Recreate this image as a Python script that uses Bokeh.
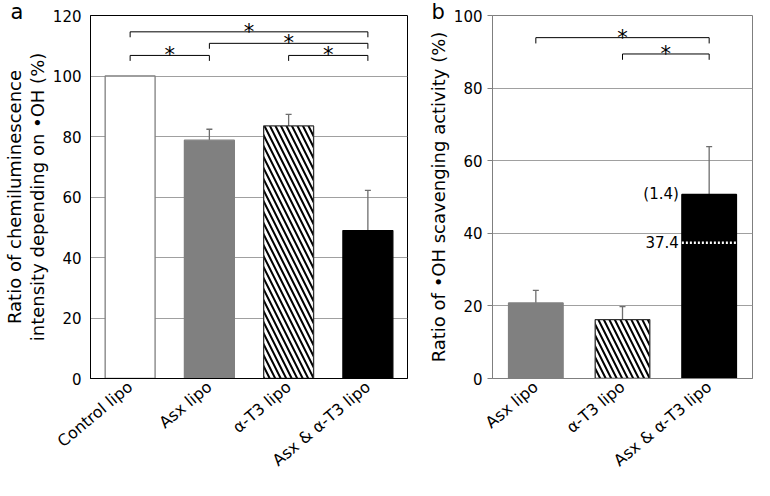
import math
from bokeh.plotting import figure
from bokeh.models import (FactorRange, Range1d, SingleIntervalTicker, ColumnDataSource,
                          Whisker, TeeHead, Title)
from bokeh.layouts import row
from bokeh.embed import file_html
from bokeh.resources import INLINE
from bokeh.core.properties import value

# ---------------- data ----------------
cats_a = ["Control lipo", "Asx lipo", "α-T3 lipo", "Asx & α-T3 lipo"]
vals_a = [100.0, 78.8, 83.5, 48.9]
err_a = [0.0, 3.6, 3.8, 13.3]
sig_a_left = [0, 1, 0, 2]
sig_a_right = [3, 3, 1, 3]
sig_a_level = [114.6, 110.8, 106.8, 106.8]

cats_b = ["Asx lipo", "α-T3 lipo", "Asx & α-T3 lipo"]
vals_b = [20.8, 16.2, 50.7]
err_b = [3.5, 3.6, 13.2]
sig_b_left = [0, 1]
sig_b_right = [2, 2]
sig_b_level = [93.9, 89.4]
expected_b = 37.4
expected_label = "37.4"
ratio_label = "(1.4)"

style = {
    "Control lipo": ("white", "#7f7f7f", " "),
    "Asx lipo": ("#808080", "#808080", " "),
    "α-T3 lipo": ("white", "#333333", "\\"),
    "Asx & α-T3 lipo": ("black", "black", " "),
}

FONT = "DejaVu Sans"
BAR_W = 0.63
H = 480


def make_panel(cats, vals, errs, sl, sr, slev, ymax, width, mbl, mbr, mbb,
               ylabel, frame_col, ytick_out, drop, letter, letter_offset):
    p = figure(x_range=FactorRange(factors=cats), y_range=Range1d(0, ymax),
               width=width, height=H, output_backend="svg", toolbar_location=None,
               min_border_left=mbl, min_border_right=mbr, min_border_top=15,
               min_border_bottom=mbb)
    p.title = Title(text=letter, align="left", offset=letter_offset, standoff=-20,
                    vertical_align="top",
                    text_font=FONT, text_font_size="21px", text_font_style="normal",
                    text_color="black")
    p.background_fill_color = "white"
    p.border_fill_color = "white"
    p.outline_line_color = frame_col
    p.outline_line_width = 1
    p.xgrid.visible = False
    p.ygrid.grid_line_color = "#a0a0a0"
    p.ygrid.grid_line_width = 1
    p.yaxis.ticker = SingleIntervalTicker(interval=20)
    p.yaxis.minor_tick_line_color = None
    p.axis.axis_line_color = frame_col
    p.axis.major_tick_line_color = frame_col
    p.yaxis.major_tick_out = ytick_out
    p.yaxis.major_tick_in = 0
    p.xaxis.major_tick_out = 0
    p.xaxis.major_tick_in = 0
    p.axis.major_label_text_font = FONT
    p.yaxis.major_label_text_font_size = "15px"
    p.xaxis.major_label_text_font_size = "16px"
    p.axis.major_label_text_color = "black"
    p.yaxis.major_label_standoff = 5
    p.xaxis.major_label_standoff = 6
    p.xaxis.major_label_orientation = math.radians(40)
    p.yaxis.axis_label = ylabel
    p.yaxis.axis_label_text_font = FONT
    p.yaxis.axis_label_text_font_style = "normal"
    p.yaxis.axis_label_text_font_size = "18px"
    p.yaxis.axis_label_text_line_height = 1.1
    p.yaxis.axis_label_standoff = 2
    p.yaxis.axis_label_text_color = "black"

    src = ColumnDataSource(dict(
        x=cats, top=vals,
        fill=[style[c][0] for c in cats],
        line=[style[c][1] for c in cats],
        hatch=[style[c][2] for c in cats],
    ))
    p.vbar(x="x", top="top", width=BAR_W, source=src, fill_color="fill",
           line_color="line", line_width=1.3, hatch_pattern="hatch",
           hatch_color="black", hatch_scale=11, hatch_weight=2)

    ex = [c for c, e in zip(cats, errs) if e > 0]
    ev = [v for v, e in zip(vals, errs) if e > 0]
    eu = [v + e for v, e in zip(vals, errs) if e > 0]
    esrc = ColumnDataSource(dict(x=ex, lower=ev, upper=eu))
    p.add_layout(Whisker(source=esrc, base="x", lower="lower", upper="upper",
                         dimension="height", line_color="#6e6e6e", line_width=1.3,
                         upper_head=TeeHead(size=6, line_color="#6e6e6e", line_width=1.3),
                         lower_head=None))

    xs, ys, sx, sy = [], [], [], []
    for l, r, lev in zip(sl, sr, slev):
        xl, xr = l + 0.5, r + 0.5
        xs.append([xl, xl, xr, xr])
        ys.append([lev - drop, lev, lev, lev - drop])
        sx.append((xl + xr) / 2)
        sy.append(lev)
    p.multi_line(xs=xs, ys=ys, line_color="black", line_width=1)
    p.text(x=sx, y=sy, text=["*"] * len(sx), text_font=value(FONT),
           text_font_size="21px", text_align="center", text_baseline="middle",
           text_color="black")
    return p


pa = make_panel(cats_a, vals_a, err_a, sig_a_left, sig_a_right, sig_a_level, 120,
                424, 82, 17, 102,
                "Ratio of chemiluminescence\nintensity depending on •OH (%)",
                "black", 0, 1.8, "a", -80)
pb = make_panel(cats_b, vals_b, err_b, sig_b_left, sig_b_right, sig_b_level, 100,
                330, 66, 2, 102,
                "Ratio of •OH scavenging activity (%)",
                "#7f7f7f", 5, 1.6, "b", -61)

# expected additive value marker on the combined bar
i_c = len(cats_b) - 1
bl = i_c + 0.5 - BAR_W / 2
br = i_c + 0.5 + BAR_W / 2
pb.segment(x0=[bl], y0=[expected_b], x1=[br], y1=[expected_b],
           line_color="white", line_width=2.5, line_dash="2 2")
pb.text(x=[bl], y=[expected_b], text=[expected_label], text_font=value(FONT),
        text_font_size="15px", text_align="right", text_baseline="middle",
        x_offset=-3, y_offset=-1, text_color="black")
pb.text(x=[bl], y=[vals_b[i_c]], text=[ratio_label], text_font=value(FONT),
        text_font_size="15px", text_align="right", text_baseline="middle",
        x_offset=-3, text_color="black")

layout = row(pa, pb)
open("out.html", "w").write(file_html(layout, INLINE))
